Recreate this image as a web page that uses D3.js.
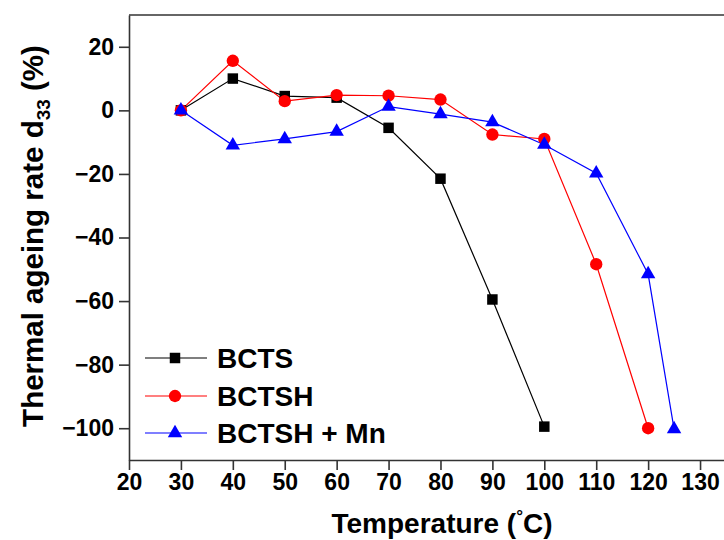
<!DOCTYPE html>
<html><head><meta charset="utf-8">
<script src="https://cdn.jsdelivr.net/npm/d3@7"></script>
<style>body{margin:0;background:#fff}svg{display:block}text{font-family:"Liberation Sans",Arial,sans-serif;font-weight:bold;fill:#000}</style>
</head><body>
<svg id="c" width="724" height="540"></svg>
<script>
const bctsT = [30,40,50,60,70,80,90,100];
const bcts = [0,10,4.5,4,-5.5,-21.5,-59.5,-99.5];
const bctshT = [30,40,50,60,70,80,90,100,110,120];
const bctsh = [0,15.6,2.9,4.8,4.6,3.4,-7.6,-9,-48.4,-100];
const mnT = [30,40,50,60,70,80,90,100,110,120,125];
const mn = [0,-11,-9,-6.7,1.2,-1.2,-3.7,-10.8,-19.8,-51.5,-100.3];
const xTicks = [20,30,40,50,60,70,80,90,100,110,120,130];
const yTicks = [20,0,-20,-40,-60,-80,-100];
const seriesNames = ["BCTS","BCTSH","BCTSH + Mn"];

const svg = d3.select("#c");
const L=129, R=726, T=15, B=460;
const x = d3.scaleLinear().domain([20,135]).range([L,R]);
const y = d3.scaleLinear().domain([-110,30]).range([B,T]);
const axisCol = "#333";

svg.append("line").attr("x1",L).attr("x2",R).attr("y1",T).attr("y2",T).attr("stroke",axisCol).attr("stroke-width",1.6);

const xMinor = d3.range(25,135,10);
const gx = svg.append("g").attr("transform",`translate(0,${B})`);
gx.call(d3.axisBottom(x).tickValues(xMinor).tickSize(5).tickFormat("")).call(g=>g.select(".domain").remove());
gx.call(d3.axisBottom(x).tickValues(xTicks).tickSize(10).tickPadding(4).tickSizeOuter(0));
gx.selectAll("line,path").attr("stroke",axisCol).attr("stroke-width",1.6);
gx.selectAll("text").attr("font-size",23).attr("font-family","Liberation Sans, Arial").attr("font-weight","bold").attr("fill","#000");

const gy = svg.append("g").attr("transform",`translate(${L},0)`);
gy.call(d3.axisLeft(y).tickValues([10,-10,-30,-50,-70,-90]).tickSize(4).tickFormat("")).call(g=>g.select(".domain").remove());
gy.call(d3.axisLeft(y).tickValues(yTicks).tickSize(10).tickPadding(5).tickSizeOuter(0));
gy.selectAll("line,path").attr("stroke",axisCol).attr("stroke-width",1.6);
gy.selectAll("text").attr("font-size",23).attr("font-family","Liberation Sans, Arial").attr("font-weight","bold").attr("fill","#000");

const series = [
  {name:seriesNames[0], xs:bctsT, ys:bcts, color:"#000", sym:d3.symbolSquare, size:110},
  {name:seriesNames[1], xs:bctshT, ys:bctsh, color:"#ff0000", sym:d3.symbolCircle, size:120},
  {name:seriesNames[2], xs:mnT, ys:mn, color:"#0000ff", sym:d3.symbolTriangle, size:90}
];
const line = d3.line().x(d=>x(d[0])).y(d=>y(d[1]));
series.forEach(s=>{
  const pts = s.xs.map((t,i)=>[t,s.ys[i]]);
  svg.append("path").attr("d",line(pts)).attr("fill","none").attr("stroke",s.color).attr("stroke-width",1.2);
});
series.forEach(s=>{
  const pts = s.xs.map((t,i)=>[t,s.ys[i]]);
  svg.append("g").selectAll("path").data(pts).join("path")
    .attr("d",d3.symbol().type(s.sym).size(s.size))
    .attr("transform",d=>`translate(${x(d[0])},${y(d[1])})`)
    .attr("fill",s.color);
});

const lg = svg.append("g");
const rows=[358,396,433];
series.forEach((s,i)=>{
  lg.append("line").attr("x1",145).attr("x2",207).attr("y1",rows[i]).attr("y2",rows[i]).attr("stroke",s.color).attr("stroke-width",1.2);
  lg.append("path").attr("d",d3.symbol().type(s.sym).size(s.size)).attr("transform",`translate(175,${rows[i]})`).attr("fill",s.color);
  lg.append("text").attr("x",217).attr("y",rows[i]+10).attr("font-size",28).text(s.name);
});

const xt = svg.append("text").attr("x",442).attr("y",533).attr("text-anchor","middle").attr("font-size",28);
xt.append("tspan").text("Temperature (");
xt.append("tspan").attr("font-size",17).attr("dy",-11).text("°");
xt.append("tspan").attr("dy",11).text("C)");

const yt = svg.append("text").attr("transform","translate(43,236) rotate(-90)").attr("text-anchor","middle").attr("font-size",29.5);
yt.append("tspan").text("Thermal ageing rate d");
yt.append("tspan").attr("font-size",19).attr("dy",7).text("33");
yt.append("tspan").attr("dy",-7).text(" (%)");
</script>
</body></html>
